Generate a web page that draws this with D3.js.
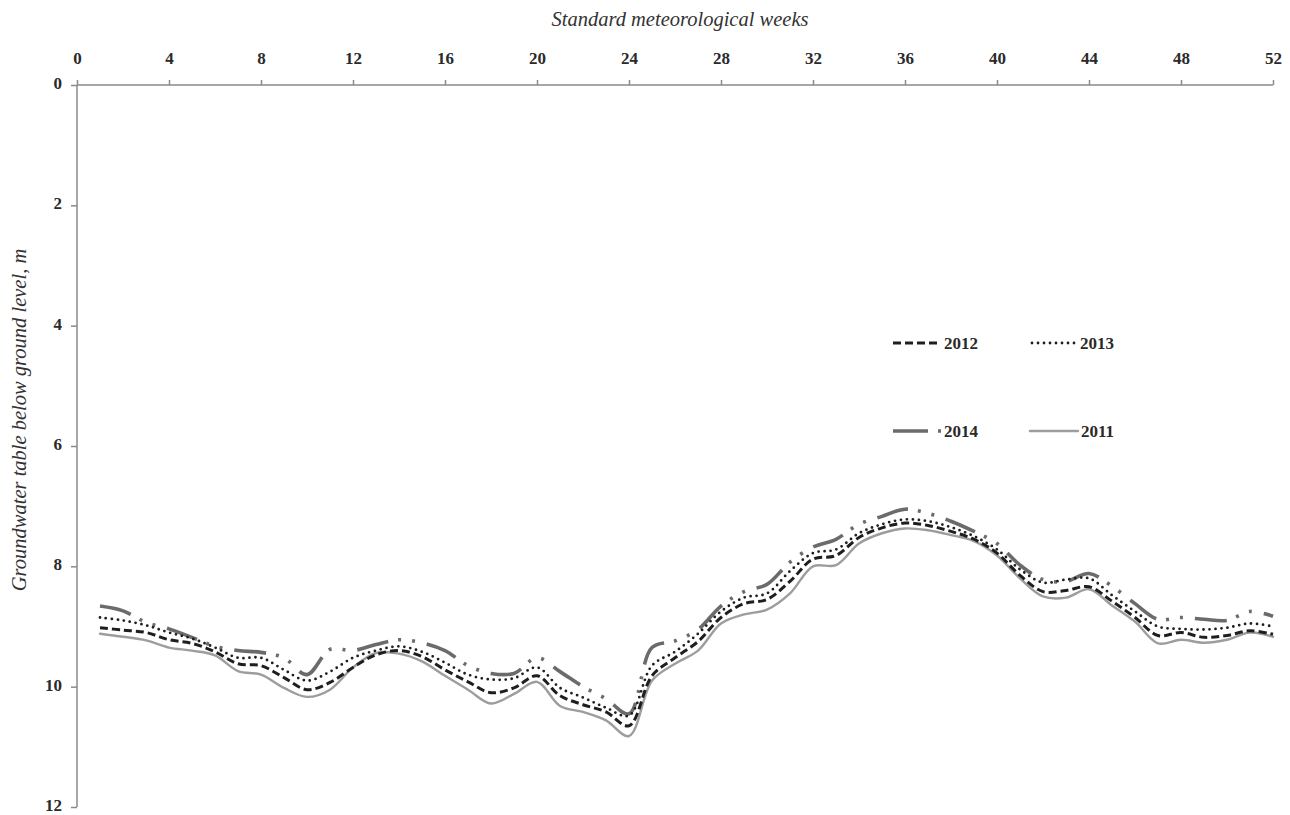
<!DOCTYPE html>
<html>
<head>
<meta charset="utf-8">
<script src="https://cdn.jsdelivr.net/npm/d3@7"></script>
<style>
  html, body { margin: 0; padding: 0; background: #fff; }
  svg { display: block; }
  .tick text { font-family: "Liberation Serif", serif; font-weight: bold; font-size: 17px; fill: #2a2a2a; }
  .axis path, .axis line { stroke: #8a8a8a; stroke-width: 1.5; }
</style>
</head>
<body>
<svg id="chart" width="1290" height="815"></svg>
<script>
// ── data: groundwater table depth (m below ground level) per standard week ──
const weeks = d3.range(1, 53);
const xTicks = d3.range(0, 53, 4);
const yTicks = d3.range(0, 13, 2);

const gwt2011 = [9.12, 9.17, 9.23, 9.35, 9.40, 9.48, 9.74, 9.80, 10.02, 10.17,
  10.05, 9.68, 9.44, 9.45, 9.58, 9.82, 10.05, 10.28, 10.12, 9.92,
  10.32, 10.42, 10.56, 10.82, 9.90, 9.62, 9.40, 8.95, 8.80, 8.72,
  8.45, 8.00, 7.98, 7.62, 7.45, 7.37, 7.40, 7.48, 7.58, 7.82,
  8.20, 8.50, 8.52, 8.38, 8.65, 8.92, 9.28, 9.22, 9.27, 9.22,
  9.10, 9.17];
const gwt2012 = [9.02, 9.06, 9.10, 9.22, 9.28, 9.42, 9.62, 9.65, 9.85, 10.05,
  9.93, 9.68, 9.47, 9.40, 9.50, 9.72, 9.92, 10.10, 10.02, 9.82,
  10.15, 10.30, 10.42, 10.65, 9.82, 9.52, 9.25, 8.85, 8.62, 8.55,
  8.25, 7.88, 7.82, 7.52, 7.36, 7.28, 7.32, 7.42, 7.55, 7.78,
  8.15, 8.42, 8.40, 8.34, 8.58, 8.85, 9.15, 9.10, 9.18, 9.15,
  9.07, 9.13];
const gwt2013 = [8.85, 8.90, 8.98, 9.10, 9.20, 9.35, 9.52, 9.52, 9.72, 9.90,
  9.75, 9.52, 9.40, 9.33, 9.42, 9.60, 9.80, 9.88, 9.86, 9.68,
  10.02, 10.18, 10.35, 10.48, 9.65, 9.42, 9.12, 8.75, 8.52, 8.45,
  8.08, 7.78, 7.72, 7.45, 7.30, 7.22, 7.25, 7.35, 7.50, 7.72,
  8.05, 8.27, 8.22, 8.20, 8.48, 8.75, 9.00, 9.04, 9.05, 9.02,
  8.95, 9.00];
const gwt2014 = [8.66, 8.74, 8.93, 9.04, 9.18, 9.33, 9.40, 9.43, 9.52, 9.80,
  9.38, 9.40, 9.30, 9.22, 9.27, 9.40, 9.65, 9.78, 9.78, 9.52,
  9.75, 10.00, 10.20, 10.45, 9.35, 9.24, 9.05, 8.66, 8.42, 8.30,
  7.93, 7.68, 7.55, 7.30, 7.17, 7.05, 7.12, 7.25, 7.42, 7.62,
  7.98, 8.22, 8.25, 8.12, 8.33, 8.62, 8.88, 8.85, 8.88, 8.90,
  8.75, 8.83];

// line styles, drawn bottom to top
const STYLES = {
  "2011": { stroke: "#9d9d9d", width: 2.4, dash: null, cap: "round" },
  "2014": { stroke: "#6b6b6b", width: 3.6, dash: "32,10,3,11,3,12", cap: "butt" },
  "2012": { stroke: "#1e1e1e", width: 3, dash: "8,4", cap: "butt" },
  "2013": { stroke: "#1e1e1e", width: 2.8, dash: "0,6", cap: "round" }
};

const series = [
  { name: "2011", values: gwt2011 },
  { name: "2014", values: gwt2014 },
  { name: "2012", values: gwt2012 },
  { name: "2013", values: gwt2013 }
];

// legend layout: [name, x, y]
const legendItems = [
  ["2012", 893, 343], ["2013", 1030, 343],
  ["2014", 893, 431], ["2011", 1030, 431]
];

const svg = d3.select("#chart");

const x = d3.scaleLinear().domain([0, 52]).range([77, 1273]);
const y = d3.scaleLinear().domain([0, 12]).range([85, 807]);

// axes
svg.append("g")
  .attr("class", "axis")
  .attr("transform", `translate(0,${y(0)})`)
  .call(d3.axisTop(x).tickValues(xTicks).tickSize(5).tickSizeOuter(0).tickPadding(16))
  .call(g => g.select(".domain").attr("d", `M${x(0)},0H${x(52)}`));

svg.append("g")
  .attr("class", "axis")
  .attr("transform", `translate(${x(0)},0)`)
  .call(d3.axisLeft(y).tickValues(yTicks).tickSize(6).tickSizeOuter(0).tickPadding(9))
  .call(g => g.select(".domain").attr("d", `M0,${y(0)}V${y(12)}`))
  .call(g => g.selectAll(".tick text").attr("dy", "0.2em"));   // keep "12" inside the frame

// titles
svg.append("text")
  .attr("x", 680).attr("y", 26)
  .attr("text-anchor", "middle")
  .style("font-family", "'Liberation Serif', serif")
  .style("font-style", "italic")
  .style("font-size", "20.5px")
  .style("fill", "#333")
  .text("Standard meteorological weeks");

svg.append("text")
  .attr("transform", "translate(26,420) rotate(-90)")
  .attr("text-anchor", "middle")
  .style("font-family", "'Liberation Serif', serif")
  .style("font-style", "italic")
  .style("font-size", "20.5px")
  .style("fill", "#333")
  .text("Groundwater table below ground level, m");

// lines
const line = d3.line()
  .x((d, i) => x(weeks[i]))
  .y(d => y(d))
  .curve(d3.curveCatmullRom.alpha(0.5));

svg.selectAll(".gwt-line")
  .data(series)
  .join("path")
    .attr("class", "gwt-line")
    .attr("d", d => line(d.values))
    .attr("fill", "none")
    .attr("stroke", d => STYLES[d.name].stroke)
    .attr("stroke-width", d => STYLES[d.name].width)
    .attr("stroke-dasharray", d => STYLES[d.name].dash)
    .attr("stroke-linecap", d => STYLES[d.name].cap)
    .attr("stroke-linejoin", "round");

// legend
const leg = svg.selectAll(".legend")
  .data(legendItems)
  .join("g")
    .attr("class", "legend")
    .attr("transform", d => `translate(${d[1]},${d[2]})`);

leg.append("path")
  .attr("d", d => d[0] === "2014" ? "M0,0H50" : (d[0] === "2013" ? "M2,0H46" : "M0,0H48"))
  .attr("fill", "none")
  .attr("stroke", d => STYLES[d[0]].stroke)
  .attr("stroke-width", d => STYLES[d[0]].width)
  .attr("stroke-dasharray", d => d[0] === "2014" ? "35,10,3,20" : STYLES[d[0]].dash)
  .attr("stroke-linecap", d => STYLES[d[0]].cap);

leg.append("text")
  .attr("x", d => d[0] === "2013" ? 50 : 51)
  .attr("y", 6)
  .style("font-family", "'Liberation Serif', serif")
  .style("font-weight", "bold")
  .style("font-size", "17px")
  .style("fill", "#2a2a2a")
  .text(d => d[0]);
</script>
</body>
</html>
